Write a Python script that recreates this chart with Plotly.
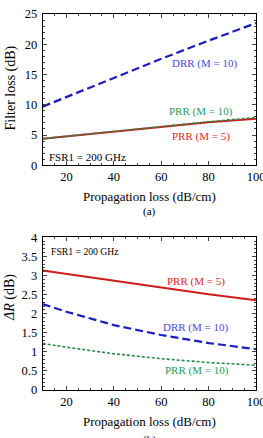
import plotly.graph_objects as go

prop_loss = [10, 20, 40, 60, 80, 100]

# Panel (a): filter loss (dB)
a_drr_m10 = [9.7, 11.3, 14.5, 17.6, 20.6, 23.5]
a_prr_m10 = [4.4, 4.8, 5.6, 6.5, 7.2, 7.9]
a_prr_m5 = [4.4, 4.8, 5.6, 6.4, 7.1, 7.7]

# Panel (b): Delta R (dB)
b_prr_m5 = [3.13, 3.04, 2.87, 2.68, 2.51, 2.35]
b_drr_m10 = [2.25, 2.05, 1.70, 1.44, 1.23, 1.07]
b_prr_m10 = [1.22, 1.12, 0.95, 0.82, 0.72, 0.65]

RED = "#d01c1c"
BLUE = "#1c1cc0"
GREEN = "#2a8a4a"
FONT = "Liberation Serif, Times New Roman, serif"

fig = go.Figure()

# Panel a
fig.add_trace(go.Scatter(x=prop_loss, y=a_drr_m10, mode="lines", xaxis="x", yaxis="y",
                         line=dict(color=BLUE, width=2.2, dash="8px,4px")))
fig.add_trace(go.Scatter(x=prop_loss, y=a_prr_m5, mode="lines", xaxis="x", yaxis="y",
                         line=dict(color=RED, width=2)))
fig.add_trace(go.Scatter(x=prop_loss, y=a_prr_m10, mode="lines", xaxis="x", yaxis="y",
                         line=dict(color=GREEN, width=1.6, dash="3px,2px")))
# Panel b
fig.add_trace(go.Scatter(x=prop_loss, y=b_prr_m5, mode="lines", xaxis="x2", yaxis="y2",
                         line=dict(color=RED, width=2)))
fig.add_trace(go.Scatter(x=prop_loss, y=b_drr_m10, mode="lines", xaxis="x2", yaxis="y2",
                         line=dict(color=BLUE, width=2.2, dash="8px,4px")))
fig.add_trace(go.Scatter(x=prop_loss, y=b_prr_m10, mode="lines", xaxis="x2", yaxis="y2",
                         line=dict(color=GREEN, width=1.6, dash="3px,2px")))

common_x = dict(range=[10, 100], tickvals=[20, 40, 60, 80, 100], ticks="inside", ticklen=4,
                mirror="allticks", showline=True, linecolor="black", linewidth=1,
                tickfont=dict(family=FONT, size=12.5, color="black"), showgrid=False,
                zeroline=False, automargin=False, ticklabeloverflow="allow",
                minor=dict(ticks="inside", ticklen=2, dtick=5, tick0=0, showgrid=False),
                title=dict(text="Propagation loss (dB/cm)", font=dict(family=FONT, size=13, color="black"), standoff=8))
common_y = dict(ticks="inside", ticklen=4, mirror="allticks", showline=True, linecolor="black",
                linewidth=1, tickfont=dict(family=FONT, size=12.5, color="black"), showgrid=False,
                zeroline=False, automargin=False, ticklabeloverflow="allow", ticklabelstandoff=2)

fig.update_layout(
    width=263, height=438,
    margin=dict(l=0, r=0, t=0, b=0),
    paper_bgcolor="white", plot_bgcolor="white",
    showlegend=False,
    xaxis=dict(domain=[0.1624, 0.9734], anchor="y", **common_x),
    yaxis=dict(domain=[0.6226, 0.968], anchor="x", range=[0, 25], dtick=5,
               minor=dict(ticks="inside", ticklen=2, dtick=1, showgrid=False),
               **common_y),
    xaxis2=dict(domain=[0.1624, 0.9734], anchor="y2", **common_x),
    yaxis2=dict(domain=[0.1096, 0.4582], anchor="x2", range=[0, 4], dtick=0.5,
                minor=dict(ticks="inside", ticklen=2, dtick=0.1, showgrid=False),
                **common_y),
)

# y-axis titles
fig.add_annotation(x=10 / 263, y=1 - 88.5 / 438, xref="paper", yref="paper", text="Filter loss (dB)",
                   textangle=-90, showarrow=False, xanchor="center", yanchor="middle",
                   font=dict(family=FONT, size=14, color="black"))
fig.add_annotation(x=10 / 263, y=1 - 298 / 438, xref="paper", yref="paper", text="<i>ΔR</i> (dB)",
                   textangle=-90, showarrow=False, xanchor="center", yanchor="middle",
                   font=dict(family=FONT, size=14, color="black"))

anns = [
    dict(x=78.5, y=16.9, xref="x", yref="y", text="DRR (M = 10)", color="#4a4ae0", size=11),
    dict(x=77, y=8.85, xref="x", yref="y", text="PRR (M = 10)", color="#2e9a5a", size=11),
    dict(x=77, y=4.7, xref="x", yref="y", text="PRR (M = 5)", color="#e02828", size=11),
    dict(x=29, y=1.4, xref="x", yref="y", text="FSR1 = 200 GHz", color="black", size=11),
    dict(x=74.7, y=2.84, xref="x2", yref="y2", text="PRR (M = 5)", color="#e02828", size=11),
    dict(x=74.7, y=1.64, xref="x2", yref="y2", text="DRR (M = 10)", color="#4a4ae0", size=11),
    dict(x=75, y=0.52, xref="x2", yref="y2", text="PRR (M = 10)", color="#2e9a5a", size=11),
    dict(x=28, y=3.62, xref="x2", yref="y2", text="FSR1 = 200 GHz", color="black", size=9.7),
]
for a in anns:
    fig.add_annotation(x=a["x"], y=a["y"], xref=a["xref"], yref=a["yref"], text=a["text"],
                       showarrow=False, font=dict(family=FONT, size=a["size"], color=a["color"]))

fig.add_annotation(x=149 / 263, y=1 - 211.7 / 438, xref="paper", yref="paper", text="(a)",
                   showarrow=False, xanchor="center", yanchor="middle",
                   font=dict(family=FONT, size=11, color="black"))
fig.add_annotation(x=149 / 263, y=1 - 439 / 438, xref="paper", yref="paper", text="(b)",
                   showarrow=False, xanchor="center", yanchor="middle",
                   font=dict(family=FONT, size=11, color="black"))

fig.write_html("out.html")
